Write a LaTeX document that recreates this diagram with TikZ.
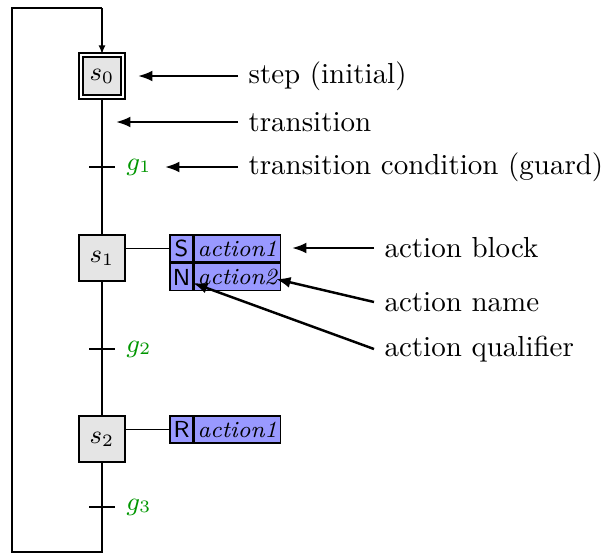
\documentclass[tikz,border=0pt]{standalone}
\usetikzlibrary{arrows.meta}
\definecolor{guardgreen}{RGB}{0,150,0}
\newcommand{\unitpx}{0.345pt}
\begin{document}
\begin{tikzpicture}[x=\unitpx,y=-\unitpx,
  stepbox/.style={draw,line width=0.6pt,fill=black!10,minimum size={46*\unitpx},inner sep=0pt,font=\small},
  initstep/.style={draw,line width=0.65pt,double,double distance=0.7pt,fill=black!10,minimum size={42*\unitpx},inner sep=0pt,font=\small},
  flow/.style={line width=0.5pt},
  tick/.style={line width=0.6pt},
  guard/.style={text=guardgreen,anchor=west,inner sep=1pt,font=\small},
  qual/.style={draw,line width=0.5pt,fill=blue!40,minimum width={23*\unitpx},minimum height={27*\unitpx},inner sep=0pt,font=\sffamily\footnotesize},
  aname/.style={draw,line width=0.5pt,fill=blue!40,minimum width={86*\unitpx},minimum height={27*\unitpx},inner sep=0pt,font=\itshape\footnotesize},
  note/.style={anchor=west,inner sep=0pt},
  pointer/.style={line width=0.85pt,-{Latex[length=5pt,width=3.8pt]}}
]
\useasboundingbox (0,0) rectangle (603,554);

% steps
\node[initstep] (s0) at (102,76) {$s_0$};
\node[stepbox] (s1) at (102,258) {$s_1$};
\node[stepbox] (s2) at (102,439) {$s_2$};

% transitions (bars on the flow line) and the return loop
\coordinate (t1) at (102,167);
\coordinate (t2) at (102,349);
\coordinate (t3) at (102,507);
\coordinate (bot) at (102,552);
\coordinate (bl) at (12,552);
\coordinate (tl) at (12,8);
\coordinate (tr) at (102,8);

\draw[flow] (s0.south) -- (s1.north);
\draw[flow] (s1.south) -- (s2.north);
\draw[flow] (s2.south) -- (bot) -- (bl) -- (tl) -- (tr);
\draw[flow,-{Latex[length=3pt,width=2.4pt]}] (tr) -- (s0.north);

\foreach \t in {t1,t2,t3}{
  \draw[tick] ([xshift={-13*\unitpx}]\t) -- ([xshift={13*\unitpx}]\t);
}
\node[guard] (g1) at (123,167) {$g_1$};
\node[guard] (g2) at (123,349) {$g_2$};
\node[guard] (g3) at (123,507) {$g_3$};

% action blocks
\node[qual]  (a1q) at (181.5,248.5) {S};
\node[aname, anchor=west] (a1n) at (a1q.east) {action1};
\node[qual, anchor=north] (a2q) at (a1q.south) {N};
\node[aname, anchor=west] (a2n) at (a2q.east) {action2};
\draw[flow] (a1q.west) -- (a1q.west -| s1.east);

\node[qual]  (a3q) at (181.5,429.5) {R};
\node[aname, anchor=west] (a3n) at (a3q.east) {action1};
\draw[flow] (a3q.west) -- (a3q.west -| s2.east);

% explanatory labels
\node[note] (lstep)  at (248,76)  {step (initial)};
\node[note] (ltrans) at (248,122) {transition};
\node[note] (lguard) at (248,167) {transition condition (guard)};
\node[note] (lblock) at (384,248) {action block};
\node[note] (lname)  at (384,302) {action name};
\node[note] (lqual)  at (384,349) {action qualifier};

\coordinate (pstep)  at (138,76);
\coordinate (ptrans) at (116,122);
\coordinate (pguard) at (165,167);
\coordinate (pblock) at (292,248);
\coordinate (pname)  at (276,279);
\coordinate (pqual)  at (193,283);

\draw[pointer] ([xshift={-10*\unitpx}]lstep.west) -- (pstep);
\draw[pointer] ([xshift={-10*\unitpx}]ltrans.west) -- (ptrans);
\draw[pointer] ([xshift={-10*\unitpx}]lguard.west) -- (pguard);
\draw[pointer] ([xshift={-10*\unitpx}]lblock.west) -- (pblock);
\draw[pointer] ([xshift={-10*\unitpx}]lname.west) -- (pname);
\draw[pointer] ([xshift={-10*\unitpx}]lqual.west) -- (pqual);
\end{tikzpicture}
\end{document}
